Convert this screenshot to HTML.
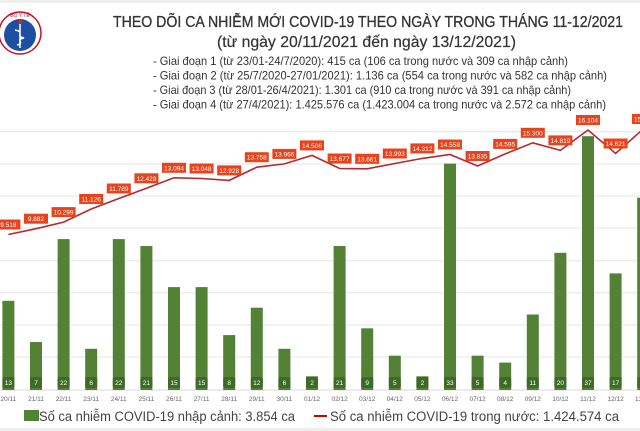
<!DOCTYPE html>
<html><head><meta charset="utf-8"><style>
html,body{margin:0;padding:0;background:#fff;}
svg{display:block;}
text{font-family:"Liberation Sans","DejaVu Sans",sans-serif;}
</style></head><body>
<svg width="640" height="431" viewBox="0 0 640 431" xmlns="http://www.w3.org/2000/svg">
<rect x="0" y="0" width="640" height="431" fill="#fff"/>
<rect x="0" y="0" width="640" height="3" fill="#eeeeee"/>
<rect x="0" y="428" width="640" height="3" fill="#eeeeee"/>
<!-- logo -->
<circle cx="20" cy="33" r="21" fill="#fff" stroke="#c8102e" stroke-width="1.5"/>
<circle cx="20" cy="35" r="16" fill="#1f4fa0"/>
<text x="20" y="17" font-size="5" fill="#c8102e" text-anchor="middle">BỘ Y TẾ</text>
<circle cx="20" cy="22" r="2" fill="#d22"/>
<path d="M20 24 L20 48 M15 30 C26 32,14 36,24 38 C14 40,26 43,17 45" stroke="#fff" stroke-width="1.5" fill="none"/>
<!-- title -->
<text x="113" y="27" font-size="15.5" fill="#333" stroke="#333" stroke-width="0.3" textLength="510" lengthAdjust="spacingAndGlyphs">THEO DÕI CA NHIỄM MỚI COVID-19 THEO NGÀY TRONG THÁNG 11-12/2021</text>
<text x="217" y="47" font-size="15.5" fill="#333" stroke="#333" stroke-width="0.2" textLength="299" lengthAdjust="spacingAndGlyphs">(từ ngày 20/11/2021 đến ngày 13/12/2021)</text>
<g font-size="12" fill="#333">
<text x="153" y="65" textLength="415" lengthAdjust="spacingAndGlyphs">- Giai đoạn 1 (từ 23/01-24/7/2020): 415 ca (106 ca trong nước và 309 ca nhập cảnh)</text>
<text x="153" y="79.5" textLength="454" lengthAdjust="spacingAndGlyphs">- Giai đoạn 2 (từ 25/7/2020-27/01/2021): 1.136 ca (554 ca trong nước và 582 ca nhập cảnh)</text>
<text x="153" y="94" textLength="418" lengthAdjust="spacingAndGlyphs">- Giai đoạn 3 (từ 28/01-26/4/2021): 1.301 ca (910 ca trong nước và 391 ca nhập cảnh)</text>
<text x="153" y="108.5" textLength="453" lengthAdjust="spacingAndGlyphs">- Giai đoạn 4 (từ 27/4/2021): 1.425.576 ca (1.423.004 ca trong nước và 2.572 ca nhập cảnh)</text>
</g>
<!-- grid -->
<g stroke="#e6e6e6" stroke-width="1">
<line x1="0" x2="640" y1="131.7" y2="131.7"/><line x1="0" x2="640" y1="164" y2="164"/>
<line x1="0" x2="640" y1="196" y2="196"/><line x1="0" x2="640" y1="228" y2="228"/>
<line x1="0" x2="640" y1="260.7" y2="260.7"/><line x1="0" x2="640" y1="292.7" y2="292.7"/>
<line x1="0" x2="640" y1="325" y2="325"/><line x1="0" x2="640" y1="357" y2="357"/>
<line x1="0" x2="640" y1="390" y2="390" stroke="#d8d8d8"/>
</g>
<!-- bars -->
<g fill="#538135">
<rect x="2.4" y="300.8" width="12" height="89.2"/>
<rect x="30" y="342" width="12" height="48"/>
<rect x="57.6" y="239.1" width="12" height="150.9"/>
<rect x="85.2" y="348.8" width="12" height="41.2"/>
<rect x="112.8" y="239.1" width="12" height="150.9"/>
<rect x="140.4" y="246" width="12" height="144"/>
<rect x="168" y="287.1" width="12" height="102.9"/>
<rect x="195.6" y="287.1" width="12" height="102.9"/>
<rect x="223.2" y="335.1" width="12" height="54.9"/>
<rect x="250.8" y="307.7" width="12" height="82.3"/>
<rect x="278.4" y="348.8" width="12" height="41.2"/>
<rect x="306" y="376.3" width="12" height="13.7"/>
<rect x="333.6" y="246" width="12" height="144"/>
<rect x="361.2" y="328.3" width="12" height="61.7"/>
<rect x="388.8" y="355.7" width="12" height="34.3"/>
<rect x="416.4" y="376.3" width="12" height="13.7"/>
<rect x="444" y="163.6" width="12" height="226.4"/>
<rect x="471.6" y="355.7" width="12" height="34.3"/>
<rect x="499.2" y="362.6" width="12" height="27.4"/>
<rect x="526.8" y="314.5" width="12" height="75.5"/>
<rect x="554.4" y="252.8" width="12" height="137.2"/>
<rect x="582" y="136.2" width="12" height="253.8"/>
<rect x="609.6" y="273.4" width="12" height="116.6"/>
<rect x="637.2" y="197.7" width="12" height="192.3"/>
</g>
<!-- bar labels -->
<g fill="#3e6a27">
<rect x="2.4" y="377" width="12" height="11" rx="2"/><rect x="30" y="377" width="12" height="11" rx="2"/>
<rect x="57.6" y="377" width="12" height="11" rx="2"/><rect x="85.2" y="377" width="12" height="11" rx="2"/>
<rect x="112.8" y="377" width="12" height="11" rx="2"/><rect x="140.4" y="377" width="12" height="11" rx="2"/>
<rect x="168" y="377" width="12" height="11" rx="2"/><rect x="195.6" y="377" width="12" height="11" rx="2"/>
<rect x="223.2" y="377" width="12" height="11" rx="2"/><rect x="250.8" y="377" width="12" height="11" rx="2"/>
<rect x="278.4" y="377" width="12" height="11" rx="2"/><rect x="306" y="377" width="12" height="11" rx="2"/>
<rect x="333.6" y="377" width="12" height="11" rx="2"/><rect x="361.2" y="377" width="12" height="11" rx="2"/>
<rect x="388.8" y="377" width="12" height="11" rx="2"/><rect x="416.4" y="377" width="12" height="11" rx="2"/>
<rect x="444" y="377" width="12" height="11" rx="2"/><rect x="471.6" y="377" width="12" height="11" rx="2"/>
<rect x="499.2" y="377" width="12" height="11" rx="2"/><rect x="526.8" y="377" width="12" height="11" rx="2"/>
<rect x="554.4" y="377" width="12" height="11" rx="2"/><rect x="582" y="377" width="12" height="11" rx="2"/>
<rect x="609.6" y="377" width="12" height="11" rx="2"/><rect x="637.2" y="377" width="12" height="11" rx="2"/>
</g>
<g fill="#fff" font-size="6.5" text-anchor="middle">
<text x="8.4" y="385">13</text><text x="36" y="385">7</text><text x="63.6" y="385">22</text><text x="91.2" y="385">6</text>
<text x="118.8" y="385">22</text><text x="146.4" y="385">21</text><text x="174" y="385">15</text><text x="201.6" y="385">15</text>
<text x="229.2" y="385">8</text><text x="256.8" y="385">12</text><text x="284.4" y="385">6</text><text x="312" y="385">2</text>
<text x="339.6" y="385">21</text><text x="367.2" y="385">9</text><text x="394.8" y="385">5</text><text x="422.4" y="385">2</text>
<text x="450" y="385">33</text><text x="477.6" y="385">5</text><text x="505.2" y="385">4</text><text x="532.8" y="385">11</text>
<text x="560.4" y="385">20</text><text x="588" y="385">37</text><text x="615.6" y="385">17</text>
</g>
<!-- dates -->
<g fill="#666" font-size="6.5" text-anchor="middle">
<text x="8.4" y="401">20/11</text><text x="36" y="401">21/11</text><text x="63.6" y="401">22/11</text><text x="91.2" y="401">23/11</text>
<text x="118.8" y="401">24/11</text><text x="146.4" y="401">25/11</text><text x="174" y="401">26/11</text><text x="201.6" y="401">27/11</text>
<text x="229.2" y="401">28/11</text><text x="256.8" y="401">29/11</text><text x="284.4" y="401">30/11</text><text x="312" y="401">01/12</text>
<text x="339.6" y="401">02/12</text><text x="367.2" y="401">03/12</text><text x="394.8" y="401">04/12</text><text x="422.4" y="401">05/12</text>
<text x="450" y="401">06/12</text><text x="477.6" y="401">07/12</text><text x="505.2" y="401">08/12</text><text x="532.8" y="401">09/12</text>
<text x="560.4" y="401">10/12</text><text x="588" y="401">11/12</text><text x="615.6" y="401">12/12</text><text x="643.2" y="401">13/12</text>
</g>
<!-- line -->
<polyline fill="none" stroke="#b8282c" stroke-width="1.6" points="8.4,234.5 36,228.7 63.6,222.1 91.2,209 118.8,198.5 146.4,188.3 174,177.8 201.6,178.5 229.2,180.4 256.8,167.2 284.4,163.9 312,155.4 339.6,168.5 367.2,168.8 394.8,163.5 422.4,158.4 450,154.5 477.6,166 505.2,153.9 532.8,142.8 560.4,150.4 588,130 615.6,153.5 643.2,129"/>
<!-- line labels -->
<g fill="#e8431c">
<rect x="-3.6" y="219.5" width="24" height="10"/><rect x="24" y="213.7" width="24" height="10"/>
<rect x="51.6" y="207.1" width="24" height="10"/><rect x="79.2" y="194" width="24" height="10"/>
<rect x="106.8" y="183.5" width="24" height="10"/><rect x="134.4" y="173.3" width="24" height="10"/>
<rect x="162" y="162.8" width="24" height="10"/><rect x="189.6" y="163.5" width="24" height="10"/>
<rect x="217.2" y="165.4" width="24" height="10"/><rect x="244.8" y="152.2" width="24" height="10"/>
<rect x="272.4" y="148.9" width="24" height="10"/><rect x="300" y="140.4" width="24" height="10"/>
<rect x="327.6" y="153.5" width="24" height="10"/><rect x="355.2" y="153.8" width="24" height="10"/>
<rect x="382.8" y="148.5" width="24" height="10"/><rect x="410.4" y="143.4" width="24" height="10"/>
<rect x="438" y="139.5" width="24" height="10"/><rect x="465.6" y="151" width="24" height="10"/>
<rect x="493.2" y="138.9" width="24" height="10"/><rect x="520.8" y="127.8" width="24" height="10"/>
<rect x="548.4" y="135.4" width="24" height="10"/><rect x="576" y="115" width="24" height="10"/>
<rect x="603.6" y="138.5" width="24" height="10"/><rect x="632" y="114" width="24" height="10"/>
</g>
<g fill="#fff" font-size="6.5" text-anchor="middle">
<text x="8.4" y="227">9.518</text><text x="36" y="221.2">9.882</text><text x="63.6" y="214.6">10.299</text>
<text x="91.2" y="201.5">11.126</text><text x="118.8" y="191">11.789</text><text x="146.4" y="180.8">12.429</text>
<text x="174" y="170.3">13.094</text><text x="201.6" y="171">13.048</text><text x="229.2" y="172.9">12.928</text>
<text x="256.8" y="159.7">13.758</text><text x="284.4" y="156.4">13.966</text><text x="312" y="147.9">14.506</text>
<text x="339.6" y="161">13.677</text><text x="367.2" y="161.3">13.661</text><text x="394.8" y="156">13.993</text>
<text x="422.4" y="150.9">14.312</text><text x="450" y="147">14.558</text><text x="477.6" y="158.5">13.835</text>
<text x="505.2" y="146.4">14.595</text><text x="532.8" y="135.3">15.300</text><text x="560.4" y="142.9">14.819</text>
<text x="588" y="122.5">16.104</text><text x="615.6" y="146">14.621</text><text x="644" y="121.5">15.974</text>
</g>
<!-- legend -->
<rect x="24" y="410" width="15" height="11" fill="#538135"/>
<text x="39" y="421" font-size="13.5" fill="#444" textLength="256" lengthAdjust="spacingAndGlyphs">Số ca nhiễm COVID-19 nhập cảnh: 3.854 ca</text>
<line x1="314" x2="327" y1="416" y2="416" stroke="#c00" stroke-width="2"/>
<text x="330" y="421" font-size="13.5" fill="#444" textLength="289" lengthAdjust="spacingAndGlyphs">Số ca nhiễm COVID-19 trong nước: 1.424.574 ca</text>
</svg>
</body></html>
